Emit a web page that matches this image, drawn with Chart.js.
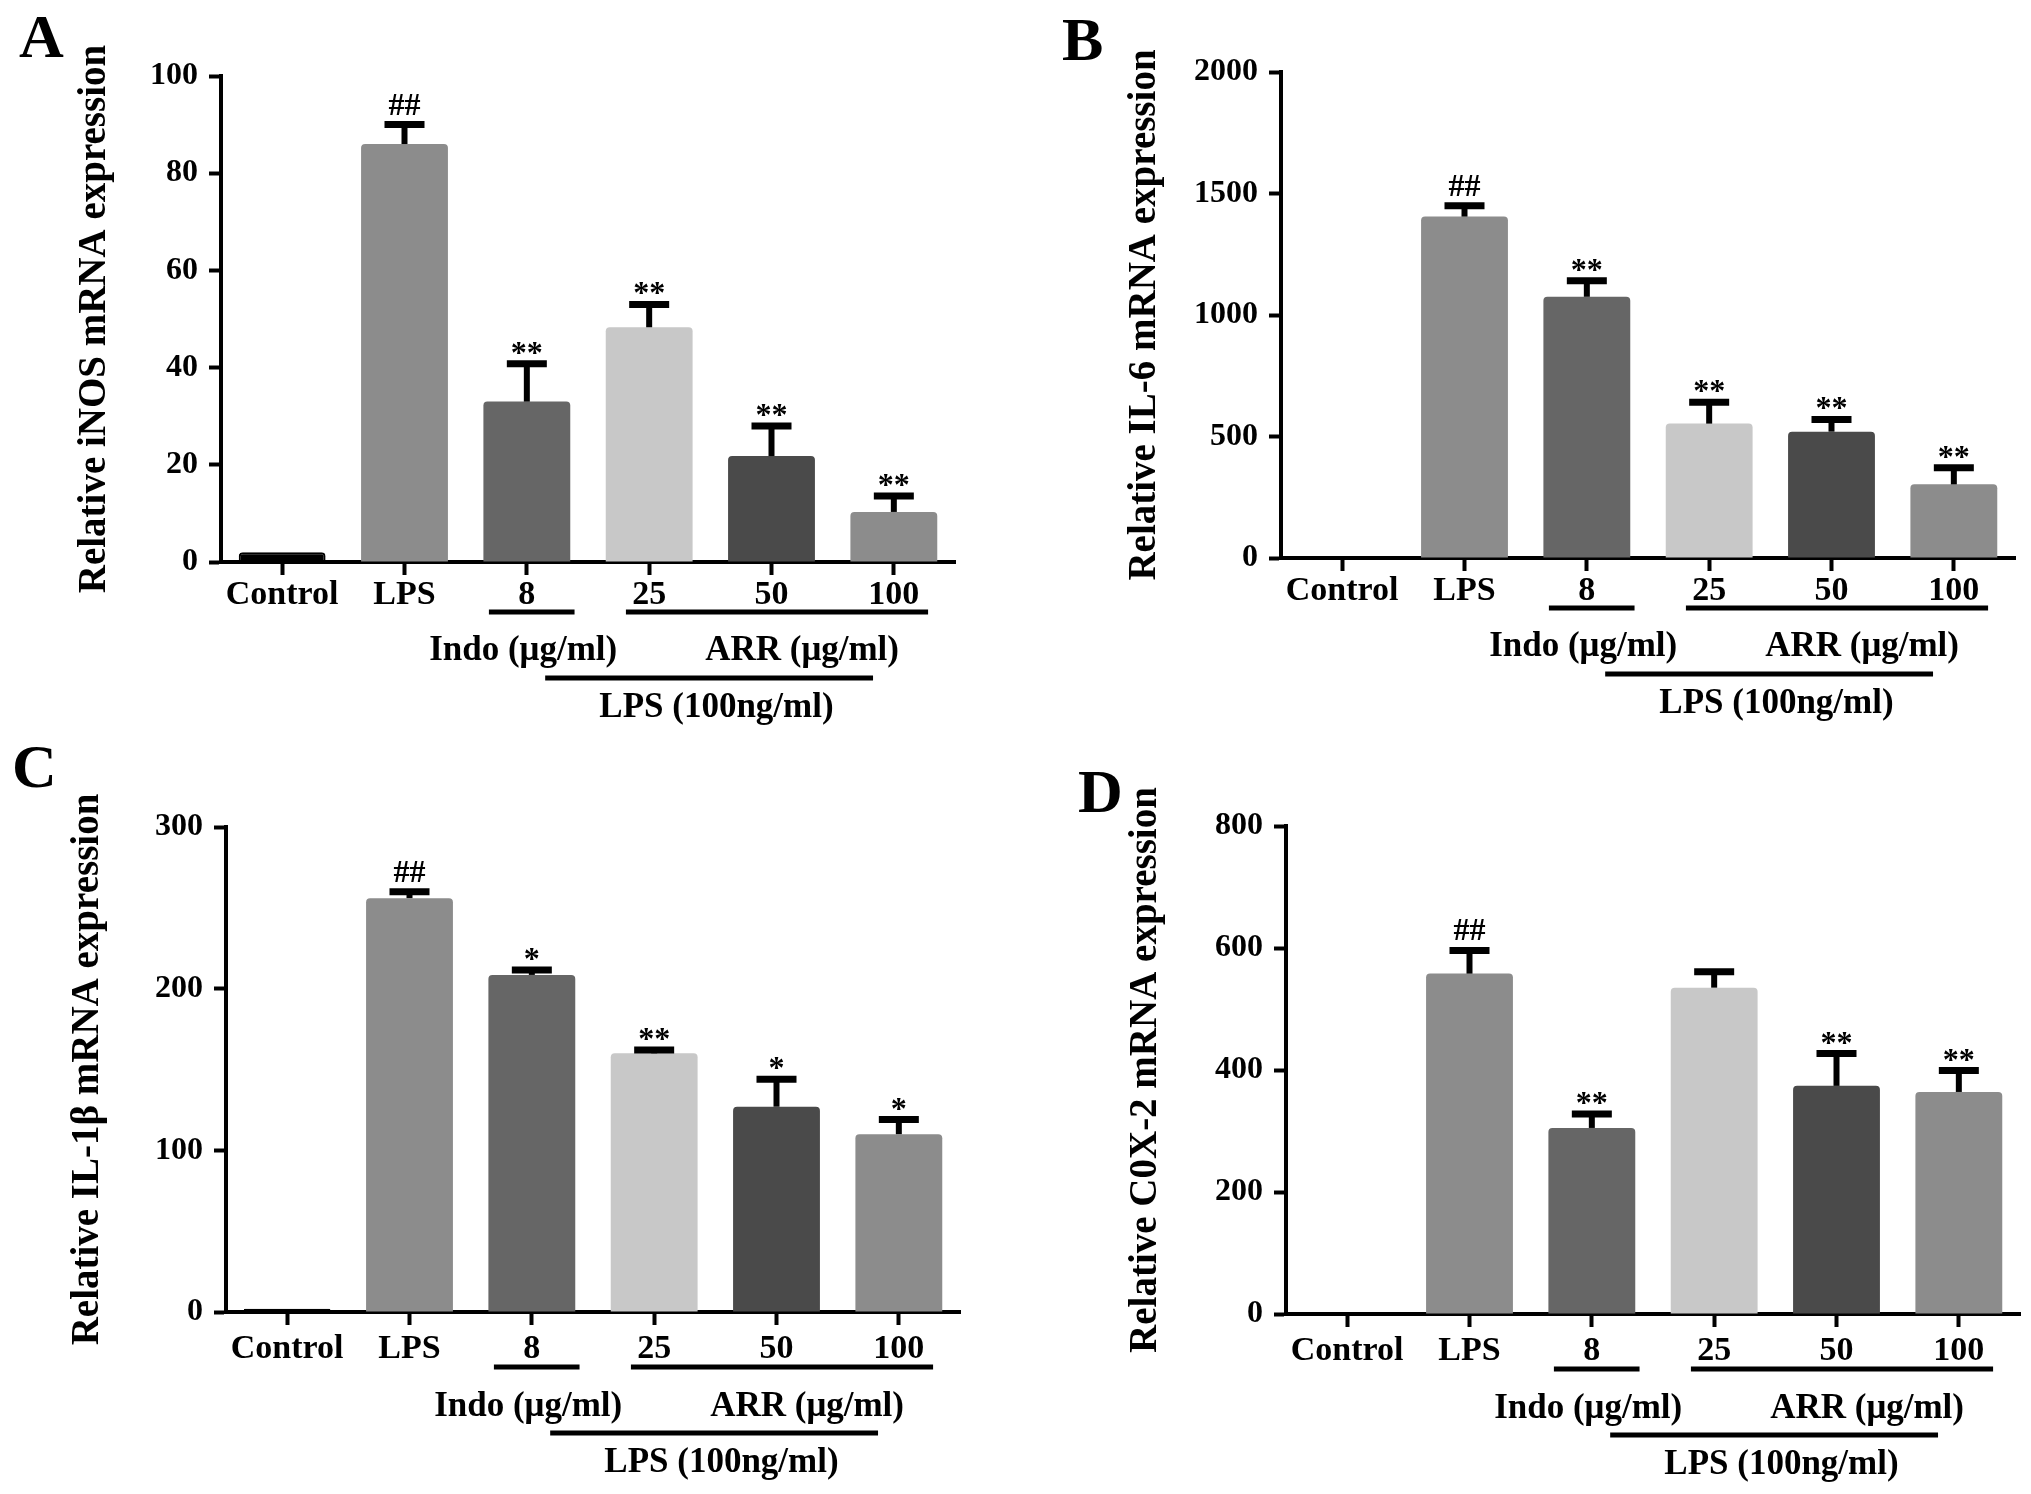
<!DOCTYPE html>
<html>
<head>
<meta charset="UTF-8" />
<script src="https://cdn.jsdelivr.net/npm/chart.js"></script>
<style>
  body { margin: 0; background: #fff; width: 2031px; height: 1494px; position: relative; overflow: hidden; }
  canvas { position: absolute; }
</style>
</head>
<body>
<canvas id="chartA"></canvas>
<canvas id="chartB"></canvas>
<canvas id="chartC"></canvas>
<canvas id="chartD"></canvas>

<script>
// data
const categories = ['Control', 'LPS', '8', '25', '50', '100'];
const groupLabels = ['Indo (μg/ml)', 'ARR (μg/ml)', 'LPS (100ng/ml)'];

const inosMean = [2, 86, 33, 48.3, 21.8, 10.3];
const inosErr = [0, 4, 7.8, 4.7, 6.2, 3.3];
const inosSig = ['', '##', '**', '**', '**', '**'];
const inosTicks = [0, 20, 40, 60, 80, 100];

const il6Mean = [4, 1405, 1075, 553, 520, 303];
const il6Err = [0, 45, 66, 88, 50, 68];
const il6Sig = ['', '##', '**', '**', '**', '**'];
const il6Ticks = [0, 500, 1000, 1500, 2000];

const il1bMean = [2, 256, 208.5, 160, 127, 110];
const il1bErr = [0, 4, 3, 2, 17, 9];
const il1bSig = ['', '##', '*', '**', '*', '*'];
const il1bTicks = [0, 100, 200, 300];

const coxMean = [3, 558, 305, 535, 374, 364];
const coxErr = [0, 38, 23, 26, 53, 35];
const coxSig = ['', '##', '**', '', '**', '**'];
const coxTicks = [0, 200, 400, 600, 800];

const barColors = ['#000000', '#8c8c8c', '#666666', '#c8c8c8', '#4a4a4a', '#8c8c8c'];
const FONT = '"Liberation Serif", "Times New Roman", serif';

// page layout of the four panels (box = canvas, area = plot area, in page px)
const panels = [
  { id: 'chartA', letter: 'A', title: 'Relative iNOS mRNA expression', mean: inosMean, err: inosErr, sig: inosSig, ticks: inosTicks,
    box: [0, 0, 1015, 747], area: [221, 76, 955, 562], titleX: 95, letterAt: [19, 57], row: 0 },
  { id: 'chartB', letter: 'B', title: 'Relative IL-6 mRNA expression', mean: il6Mean, err: il6Err, sig: il6Sig, ticks: il6Ticks,
    box: [1015, 0, 1016, 747], area: [1281, 72, 2015, 558], titleX: 1145, letterAt: [1062, 60], row: 0 },
  { id: 'chartC', letter: 'C', title: 'Relative IL-1β mRNA expression', mean: il1bMean, err: il1bErr, sig: il1bSig, ticks: il1bTicks,
    box: [0, 747, 1015, 747], area: [226, 827, 960, 1312], titleX: 88, letterAt: [12, 787], row: 1 },
  { id: 'chartD', letter: 'D', title: 'Relative C0X-2 mRNA expression', mean: coxMean, err: coxErr, sig: coxSig, ticks: coxTicks,
    box: [1015, 747, 1016, 747], area: [1286, 826, 2020, 1314], titleX: 1146, letterAt: [1078, 812], row: 1 },
];

// vertical offsets below the x axis for the grouping lines / labels
const rowOffsets = [
  { line1: 50, text1: 89, line2: 116, text2: 146, tickPad: 0 },
  { line1: 55, text1: 95, line2: 121, text2: 151, tickPad: 4 },
];

const decorations = {
  id: 'decorations',
  afterDatasetsDraw(chart, args, opts) {
    const { ctx } = chart;
    const { x, y } = chart.scales;
    const p = opts.panel;
    ctx.save();
    ctx.strokeStyle = '#000';
    ctx.fillStyle = '#000';
    ctx.lineCap = 'butt';
    p.mean.forEach((m, i) => {
      const cx = x.getPixelForValue(i);
      const base = y.getPixelForValue(m);
      const capY = y.getPixelForValue(m + p.err[i]);
      if (p.err[i] > 0) {
        ctx.lineWidth = 6;
        ctx.beginPath(); ctx.moveTo(cx, base); ctx.lineTo(cx, capY); ctx.stroke();
        ctx.lineWidth = 7;
        ctx.beginPath(); ctx.moveTo(cx - 20, capY); ctx.lineTo(cx + 20, capY); ctx.stroke();
      }
      const s = p.sig[i];
      if (s) {
        ctx.font = 'bold 32px ' + FONT;
        ctx.textAlign = 'center';
        ctx.textBaseline = 'alphabetic';
        const by = s[0] === '#' ? capY - 10 : capY - 1;
        ctx.fillText(s, cx, by);
      }
    });
    ctx.restore();
  },
  afterDraw(chart, args, opts) {
    const { ctx } = chart;
    const { x } = chart.scales;
    const p = opts.panel;
    const off = rowOffsets[p.row];
    const base = chart.chartArea.bottom;
    const px = (i, d) => x.getPixelForValue(i + d);
    ctx.save();
    ctx.fillStyle = '#000';
    ctx.strokeStyle = '#000';
    // panel letter
    ctx.font = 'bold 62px ' + FONT;
    ctx.textAlign = 'left';
    ctx.textBaseline = 'alphabetic';
    ctx.fillText(p.letter, p.letterAt[0] - p.box[0], p.letterAt[1] - p.box[1]);
    // grouping lines
    ctx.lineWidth = 5;
    const seg = (a, b, yy) => { ctx.beginPath(); ctx.moveTo(a, yy); ctx.lineTo(b, yy); ctx.stroke(); };
    seg(px(2, -0.31), px(2, 0.39), base + off.line1);
    seg(px(3, -0.19), px(5, 0.28), base + off.line1);
    seg(px(2, 0.15), px(4, 0.83), base + off.line2);
    ctx.font = 'bold 35px ' + FONT;
    ctx.textAlign = 'center';
    ctx.textBaseline = 'middle';
    ctx.fillText(groupLabels[0], px(2, -0.03), base + off.text1);
    ctx.fillText(groupLabels[1], px(4, 0.25), base + off.text1);
    ctx.fillText(groupLabels[2], px(3, 0.55), base + off.text2);
    ctx.restore();
  }
};

panels.forEach((p) => {
  const [bl, bt, bw, bh] = p.box;
  const [al, at, ar, ab] = p.area;
  const canvas = document.getElementById(p.id);
  canvas.width = bw;
  canvas.height = bh;
  canvas.style.left = bl + 'px';
  canvas.style.top = bt + 'px';
  canvas.style.width = bw + 'px';
  canvas.style.height = bh + 'px';

  const titleSize = 39;
  const padLeft = p.titleX - bl - titleSize * 1.2 / 2;
  const tickMax = p.ticks[p.ticks.length - 1];

  new Chart(canvas, {
    type: 'bar',
    data: {
      labels: categories,
      datasets: [{
        data: p.mean,
        backgroundColor: barColors,
        borderColor: '#000',
        borderWidth: [2, 0, 0, 0, 0, 0],
        borderRadius: { topLeft: 4, topRight: 4 },
        borderSkipped: 'bottom',
        barPercentage: 0.71,
        categoryPercentage: 1,
      }]
    },
    options: {
      responsive: false,
      animation: false,
      devicePixelRatio: 1,
      layout: { padding: { left: padLeft, top: at - bt, right: bl + bw - ar, bottom: 0 } },
      plugins: {
        legend: { display: false },
        tooltip: { enabled: false },
        decorations: { panel: p },
      },
      scales: {
        x: {
          offset: true,
          grid: { offset: false, drawOnChartArea: false, tickLength: 13, tickWidth: 4, tickColor: '#000' },
          border: { color: '#000', width: 4 },
          ticks: { color: '#000', font: { family: FONT, size: 34, weight: 'bold' }, padding: rowOffsets[p.row].tickPad, autoSkip: false, maxRotation: 0 },
          afterFit(s) { s.height = bt + bh - ab; s.paddingLeft = 0; s.paddingRight = 0; },
        },
        y: {
          min: 0,
          max: tickMax,
          afterBuildTicks(s) { s.ticks = p.ticks.map((v) => ({ value: v })); },
          grid: { drawOnChartArea: false, tickLength: 12, tickWidth: 4, tickColor: '#000' },
          border: { color: '#000', width: 4 },
          ticks: { color: '#000', font: { family: FONT, size: 32, weight: 'bold' }, padding: 11, callback: (v) => String(v) },
          title: { display: true, text: p.title, color: '#000', padding: 0, font: { family: FONT, size: titleSize, weight: 'bold' } },
          afterFit(s) { s.width = al - bl - padLeft; s.paddingTop = 0; s.paddingBottom = 0; },
        }
      }
    },
    plugins: [decorations]
  });
});
</script>
</body>
</html>
